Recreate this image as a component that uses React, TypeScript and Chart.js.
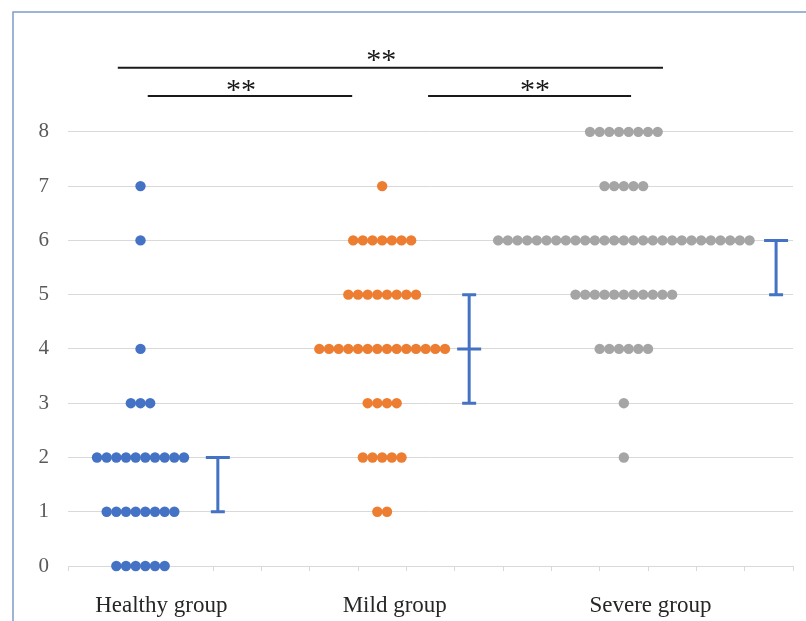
import React, { useEffect, useRef } from "react";
import { Chart, registerables } from "chart.js";

Chart.register(...registerables);

// ---- data ----
const categories = ["Healthy group", "Mild group", "Severe group"];
const scores = [0, 1, 2, 3, 4, 5, 6, 7, 8];
const healthyCounts = [6, 8, 10, 3, 1, 0, 1, 1, 0];
const mildCounts = [0, 2, 5, 4, 14, 8, 7, 1, 0];
const severeCounts = [0, 0, 1, 1, 6, 11, 27, 5, 8];
const groupCenters = [1.5, 6.5, 11.5];
const categoryLabelX = [1.93, 6.76, 12.05];
const summaryX = [3.1, 8.3, 14.65];
const q1Values = [1, 3, 5];
const medianValues = [2, 4, 6];
const q3Values = [2, 5, 6];
const yTickValues = [0, 1, 2, 3, 4, 5, 6, 7, 8];
const bracketFrom = [1.03, 1.65, 7.45];
const bracketTo = [12.31, 5.88, 11.65];
const bracketY = [9.18, 8.66, 8.66];
const bracketLabels = ["**", "**", "**"];
const bracketLabelX = [6.48, 3.58, 9.66];
const bracketLabelY = [9.47, 8.92, 8.92];

const groupColors = ["#4472C4", "#ED7D31", "#A5A5A5"];
const SERIF = "'Times New Roman', 'Liberation Serif', serif";

function dotPoints(counts: number[], center: number) {
  const pts: { x: number; y: number }[] = [];
  counts.forEach((n, si) => {
    for (let i = 0; i < n; i++) {
      pts.push({ x: center + (i - (n - 1) / 2) * 0.2, y: scores[si] });
    }
  });
  return pts;
}

const decorPlugin = {
  id: "decor",
  beforeDraw(chart: any) {
    const { ctx, width, height } = chart;
    ctx.save();
    ctx.fillStyle = "#ffffff";
    ctx.fillRect(0, 0, width, height);
    ctx.strokeStyle = "#7F9CC9";
    ctx.lineWidth = 1.5;
    ctx.beginPath();
    ctx.moveTo(13, height);
    ctx.lineTo(13, 12);
    ctx.lineTo(width, 12);
    ctx.stroke();
    ctx.restore();
  },
  afterDatasetsDraw(chart: any) {
    const { ctx } = chart;
    const xs = chart.scales.x;
    const ys = chart.scales.y;
    ctx.save();
    // error bars
    ctx.strokeStyle = "#4472C4";
    ctx.lineWidth = 3;
    summaryX.forEach((xv, i) => {
      const px = xs.getPixelForValue(xv);
      const pq1 = ys.getPixelForValue(q1Values[i]);
      const pq3 = ys.getPixelForValue(q3Values[i]);
      const pm = ys.getPixelForValue(medianValues[i]);
      ctx.beginPath();
      ctx.moveTo(px, pq1);
      ctx.lineTo(px, pq3);
      ctx.moveTo(px - 7, pq1);
      ctx.lineTo(px + 7, pq1);
      ctx.moveTo(px - 7, pq3);
      ctx.lineTo(px + 7, pq3);
      ctx.moveTo(px - 12, pm);
      ctx.lineTo(px + 12, pm);
      ctx.stroke();
    });
    // significance brackets
    ctx.strokeStyle = "#1a1a1a";
    ctx.lineWidth = 2;
    ctx.fillStyle = "#1a1a1a";
    ctx.font = `30px ${SERIF}`;
    ctx.textAlign = "center";
    ctx.textBaseline = "middle";
    bracketFrom.forEach((f, i) => {
      const py = ys.getPixelForValue(bracketY[i]);
      ctx.beginPath();
      ctx.moveTo(xs.getPixelForValue(f), py);
      ctx.lineTo(xs.getPixelForValue(bracketTo[i]), py);
      ctx.stroke();
      ctx.fillText(
        bracketLabels[i],
        xs.getPixelForValue(bracketLabelX[i]),
        ys.getPixelForValue(bracketLabelY[i]) + 9
      );
    });
    ctx.restore();
  },
};

export default function App() {
  const ref = useRef<HTMLCanvasElement | null>(null);
  useEffect(() => {
    if (!ref.current) return;
    const chart = new Chart(ref.current, {
      type: "scatter",
      data: {
        datasets: [healthyCounts, mildCounts, severeCounts].map((c, gi) => ({
          label: categories[gi],
          data: dotPoints(c, groupCenters[gi]),
          backgroundColor: groupColors[gi],
          borderWidth: 0,
          pointRadius: 5.2,
          pointHoverRadius: 5.2,
          clip: false,
        })),
      },
      options: {
        animation: false,
        responsive: false,
        devicePixelRatio: 1,
        layout: { padding: { top: 45, right: 13, left: 0, bottom: 0 } },
        plugins: {
          legend: { display: false },
          tooltip: { enabled: false },
        },
        scales: {
          x: {
            type: "linear",
            position: "bottom",
            min: 0,
            max: 15,
            weight: 0,
            ticks: { stepSize: 1, display: false },
            grid: {
              drawOnChartArea: false,
              drawTicks: true,
              tickLength: 5,
              color: "#D9D9D9",
            },
            border: { display: true, color: "#D9D9D9" },
          },
          x2: {
            type: "linear",
            position: "bottom",
            min: 0,
            max: 15,
            weight: 1,
            afterBuildTicks: (s: any) => {
              s.ticks = categoryLabelX.map((v) => ({ value: v }));
            },
            afterFit: (s: any) => {
              s.height = 50;
            },
            ticks: {
              autoSkip: false,
              maxRotation: 0,
              padding: 13,
              color: "#262626",
              font: { family: SERIF, size: 23 },
              callback: (_v: any, i: number) => categories[i],
            },
            grid: { display: false },
            border: { display: false },
          },
          y: {
            type: "linear",
            min: 0,
            max: 9.6,
            afterFit: (s: any) => {
              s.width = 68;
            },
            afterBuildTicks: (s: any) => {
              s.ticks = yTickValues.map((v) => ({ value: v }));
            },
            ticks: {
              padding: 19,
              color: "#595959",
              font: { family: SERIF, size: 21 },
            },
            grid: { color: "#D9D9D9", drawTicks: false },
            border: { display: false },
          },
        },
      },
      plugins: [decorPlugin],
    } as any);
    return () => chart.destroy();
  }, []);
  return (
    <div style={{ position: "absolute", left: 0, top: 0, width: 806, height: 621 }}>
      <canvas ref={ref} width={806} height={621} />
    </div>
  );
}
